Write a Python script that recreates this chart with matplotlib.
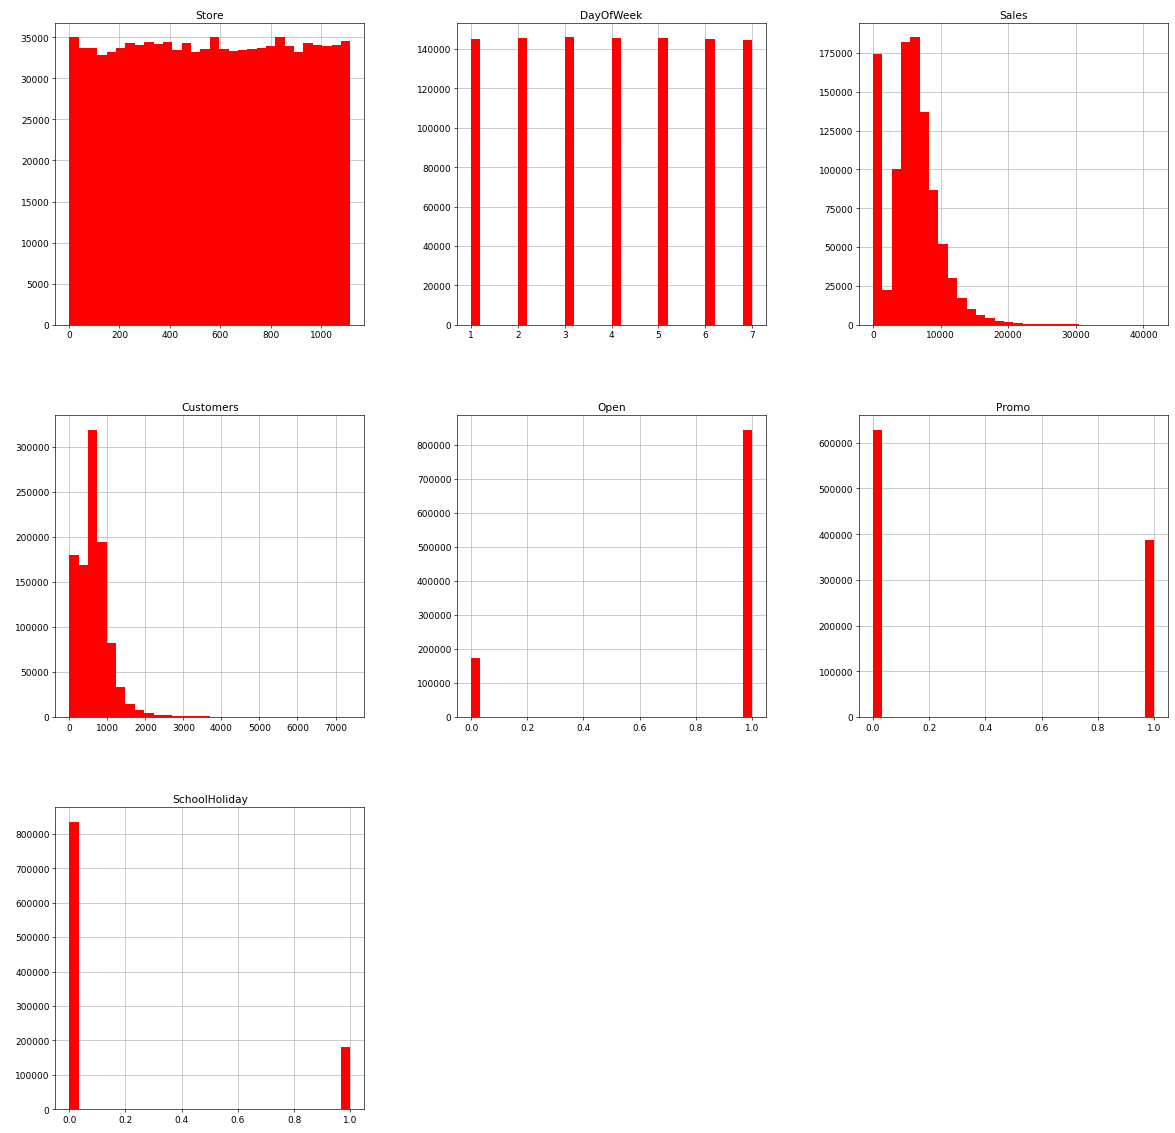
import numpy as np
import matplotlib
matplotlib.use("Agg")
import matplotlib.pyplot as plt

# column name -> (min, max) of the data range, 30 bins each
columns = ["Store", "DayOfWeek", "Sales", "Customers", "Open", "Promo", "SchoolHoliday"]
ranges = {
    "Store": (1, 1115),
    "DayOfWeek": (1, 7),
    "Sales": (0, 41551),
    "Customers": (0, 7388),
    "Open": (0, 1),
    "Promo": (0, 1),
    "SchoolHoliday": (0, 1),
}

store_counts = [35000, 33700, 33700, 32900, 33200, 33700, 34300, 34100, 34400, 34200,
                34400, 33400, 34300, 33200, 33600, 35000, 33600, 33300, 33400, 33600,
                33700, 33900, 35000, 33900, 33200, 34300, 34100, 33900, 34100, 34500]
dow_counts = [145000, 0, 0, 0, 0, 145700, 0, 0, 0, 0,
              146000, 0, 0, 0, 0, 145800, 0, 0, 0, 0,
              145800, 0, 0, 0, 0, 145000, 0, 0, 0, 144700]
sales_counts = [174000, 22500, 100000, 182000, 185000, 137000, 87000, 52000, 30000, 17000,
                10000, 6000, 4000, 2500, 1500, 1000, 700, 500, 400, 300,
                250, 200, 0, 0, 0, 0, 0, 0, 0, 50]
customers_counts = [180000, 169000, 319000, 194000, 82000, 33000, 14500, 8000, 4500, 2500,
                    2000, 1500, 1200, 1000, 800, 0, 0, 0, 0, 0,
                    0, 0, 0, 0, 0, 0, 0, 0, 0, 20]
open_counts = [172800] + [0] * 28 + [844400]
promo_counts = [629000] + [0] * 28 + [388000]
holiday_counts = [835000] + [0] * 28 + [182000]

counts = {
    "Store": store_counts,
    "DayOfWeek": dow_counts,
    "Sales": sales_counts,
    "Customers": customers_counts,
    "Open": open_counts,
    "Promo": promo_counts,
    "SchoolHoliday": holiday_counts,
}

fig, axes = plt.subplots(3, 3, figsize=(20, 19.3))
fig.subplots_adjust(left=0.047, right=0.994, top=0.979, bottom=0.021, wspace=0.30, hspace=0.3)

for ax, col in zip(axes.flat, columns):
    lo, hi = ranges[col]
    edges = np.linspace(lo, hi, 31)
    centers = (edges[:-1] + edges[1:]) / 2
    ax.hist(centers, bins=edges, weights=counts[col], color="red")
    ax.set_title(col, fontsize=13)
    ax.grid(True, color="#b0b0b0")
    ax.set_axisbelow(True)
    ax.tick_params(labelsize=11)

for ax in axes.flat[len(columns):]:
    ax.set_visible(False)

fig.savefig("out.png", dpi=58.75)
